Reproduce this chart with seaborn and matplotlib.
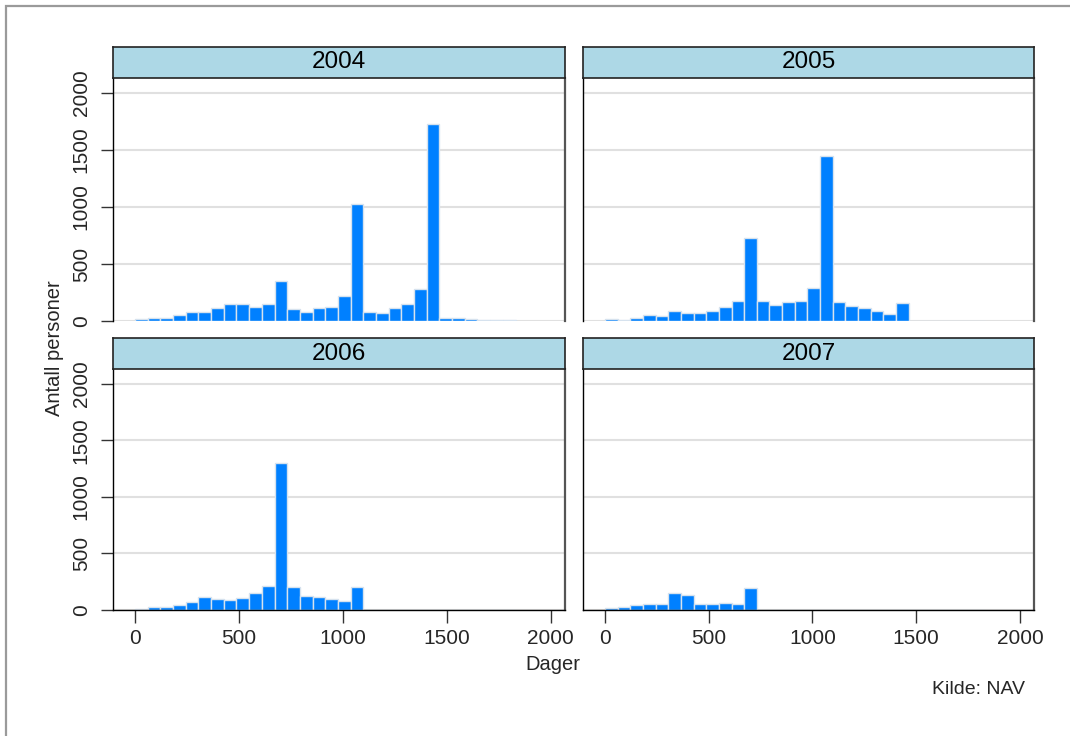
import numpy as np
import pandas as pd
import matplotlib
matplotlib.use("Agg")
import matplotlib.pyplot as plt
from matplotlib.patches import Rectangle
import seaborn as sns

# ---- data (counts per 61-day bin) ----
years = ["2004", "2005", "2006", "2007"]
bin_width = 61
counts_2004 = [18, 26, 29, 53, 79, 82, 115, 147, 147, 126, 147, 353, 109, 82, 115,
               121, 220, 1025, 82, 70, 114, 152, 283, 1730, 29, 26, 15, 9, 6, 5]
counts_2005 = [15, 9, 26, 50, 41, 88, 73, 73, 85, 126, 178, 727, 178, 140, 164,
               178, 289, 1450, 164, 131, 111, 88, 64, 155]
counts_2006 = [12, 29, 29, 44, 68, 118, 97, 91, 103, 153, 209, 1300, 200, 126, 115,
               97, 76, 200]
counts_2007 = [15, 24, 41, 50, 56, 150, 129, 50, 56, 62, 56, 194]
x_ticks = [0, 500, 1000, 1500, 2000]
y_ticks = [0, 500, 1000, 1500, 2000]
x_label = "Dager"
y_label = "Antall personer"
source = "Kilde: NAV"

all_counts = {"2004": counts_2004, "2005": counts_2005,
              "2006": counts_2006, "2007": counts_2007}
rows = []
for yr in years:
    for i, c in enumerate(all_counts[yr]):
        rows.append({"year": yr, "days": (i + 0.5) * bin_width, "n": c})
df = pd.DataFrame(rows)
edges = [float(i * bin_width) for i in range(31)]

sns.set_style("white")
plt.rcParams["font.family"] = ["Liberation Sans", "DejaVu Sans"]

W, H = 1070, 736
fig = plt.figure(figsize=(W / 100, H / 100), dpi=100)

def fx(px):
    return px / W

def fy(py):
    return 1 - py / H

panel_boxes = {
    "2004": (113, 565, 78, 321),
    "2005": (583, 1034, 78, 321),
    "2006": (113, 565, 369, 610),
    "2007": (583, 1034, 369, 610),
}
strip_h = 31

bar_color = "#0080ff"
edge_color = "#d6e2ee"
grid_color = "#e0e0e0"

for k, yr in enumerate(years):
    l, r, t, b = panel_boxes[yr]
    ax = fig.add_axes([fx(l), fy(b), fx(r - l), (b - t) / H])
    sub = df[df["year"] == yr].reset_index(drop=True)
    sns.histplot(x=sub["days"].to_numpy(), weights=sub["n"].to_numpy(),
                 bins=edges, ax=ax, stat="count",
                 color=bar_color, edgecolor=edge_color, linewidth=1.0,
                 alpha=1.0)
    ax.set_xlim(-106, 2068)
    ax.set_ylim(0, 2132)
    ax.set_xlabel("")
    ax.set_ylabel("")
    ax.set_yticks(y_ticks)
    ax.set_xticks(x_ticks)
    ax.set_axisbelow(True)
    ax.grid(axis="y", color=grid_color, linewidth=1.5)
    ax.grid(axis="x", visible=False)
    ax.spines["top"].set_visible(False)
    ax.spines["left"].set_color("black")
    ax.spines["left"].set_linewidth(1.0)
    ax.spines["right"].set_color("#555555")
    ax.spines["right"].set_linewidth(1.6)
    left_col = k % 2 == 0
    bottom_row = k >= 2
    if bottom_row:
        ax.spines["bottom"].set_color("black")
        ax.spines["bottom"].set_linewidth(1.0)
        ax.tick_params(axis="x", bottom=True, length=9, width=1.0,
                       color="#333333", labelsize=15, pad=5)
    else:
        ax.spines["bottom"].set_visible(False)
        ax.tick_params(axis="x", bottom=False, labelbottom=False)
    if left_col:
        ax.tick_params(axis="y", left=True, length=9, width=1.0,
                       color="#333333", labelsize=15, pad=7)
        for lab in ax.get_yticklabels():
            lab.set_rotation(90)
            lab.set_va("center")
    else:
        ax.tick_params(axis="y", left=False, labelleft=False)

    # strip
    sax = fig.add_axes([fx(l), fy(t), fx(r - l), strip_h / H])
    sax.set_facecolor("#add8e6")
    sax.set_xticks([])
    sax.set_yticks([])
    for s in sax.spines.values():
        s.set_color("#222222")
        s.set_linewidth(1.2)
    sax.text(0.5, 0.5, yr, ha="center", va="center", fontsize=17.5,
             transform=sax.transAxes, color="black")

fig.text(fx(553), fy(665), x_label, ha="center", va="center", fontsize=14.5)
fig.text(fx(55), fy(348), y_label, ha="center", va="center", fontsize=14.5,
         rotation=90)
fig.text(fx(1025), fy(690), source, ha="right", va="center", fontsize=14)

fig.add_artist(Rectangle((fx(6), -0.1), 2, fy(6) + 0.1,
                         transform=fig.transFigure, fill=False,
                         edgecolor="#9a9a9a", linewidth=1.6))

fig.savefig("out.png", dpi=100, facecolor="white")
